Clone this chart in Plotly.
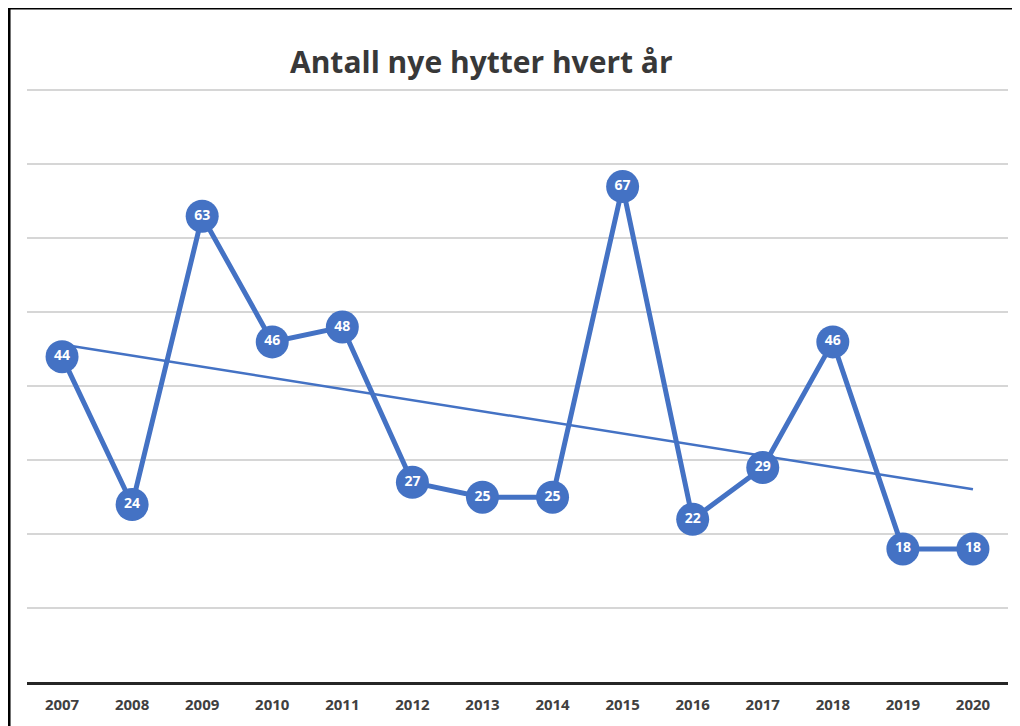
import numpy as np
import plotly.graph_objects as go

# Antall nye hytter per år
years = ["2007", "2008", "2009", "2010", "2011", "2012", "2013",
         "2014", "2015", "2016", "2017", "2018", "2019", "2020"]
hytter = [44, 24, 63, 46, 48, 27, 25, 25, 67, 22, 29, 46, 18, 18]
y_ticks = [0, 10, 20, 30, 40, 50, 60, 70, 80]

blue = "#4472C4"

# lineær trendlinje (som i Excel)
idx = np.arange(len(hytter))
slope, intercept = np.polyfit(idx, hytter, 1)
trend = slope * idx + intercept

fig = go.Figure()
fig.add_trace(go.Scatter(x=years, y=trend, mode="lines",
                         line=dict(color=blue, width=2.5),
                         hoverinfo="skip", showlegend=False))
fig.add_trace(go.Scatter(x=years, y=hytter, mode="lines+markers+text",
                         text=[str(v) for v in hytter],
                         textposition="middle center",
                         textfont=dict(color="white", size=14,
                                       family="Open Sans", weight="bold"),
                         line=dict(color=blue, width=5),
                         marker=dict(size=33, color=blue),
                         showlegend=False))

# siden har 8px body-marg, så alt flyttes 8px opp/venstre
fig.update_layout(
    width=1020, height=726,
    margin=dict(l=19, r=20, t=81, b=52),
    paper_bgcolor="white", plot_bgcolor="white",
    title=dict(text="<b>Antall nye hytter hvert år</b>",
               x=0.464, xanchor="center", y=1 - 54 / 726, yanchor="middle",
               font=dict(family="Open Sans", size=30, color="#383838")),
    xaxis=dict(type="category", range=[-0.5, len(years) - 0.5],
               showgrid=False, showline=True, linecolor="#262626",
               linewidth=2.5, ticks="", zeroline=False,
               ticklabelstandoff=7,
               tickfont=dict(family="Open Sans", size=15, color="#404040",
                             weight="bold")),
    yaxis=dict(range=[0, 80.2], tickvals=y_ticks, showticklabels=False,
               showgrid=True, gridcolor="#d6d6d6", gridwidth=1.5,
               zeroline=False, showline=False),
    shapes=[dict(type="rect", xref="paper", yref="paper",
                 x0=-0.0183, x1=1.05, y0=-0.2, y1=1.1368,
                 line=dict(color="black", width=3), layer="above")],
)

fig.write_html("out.html")
